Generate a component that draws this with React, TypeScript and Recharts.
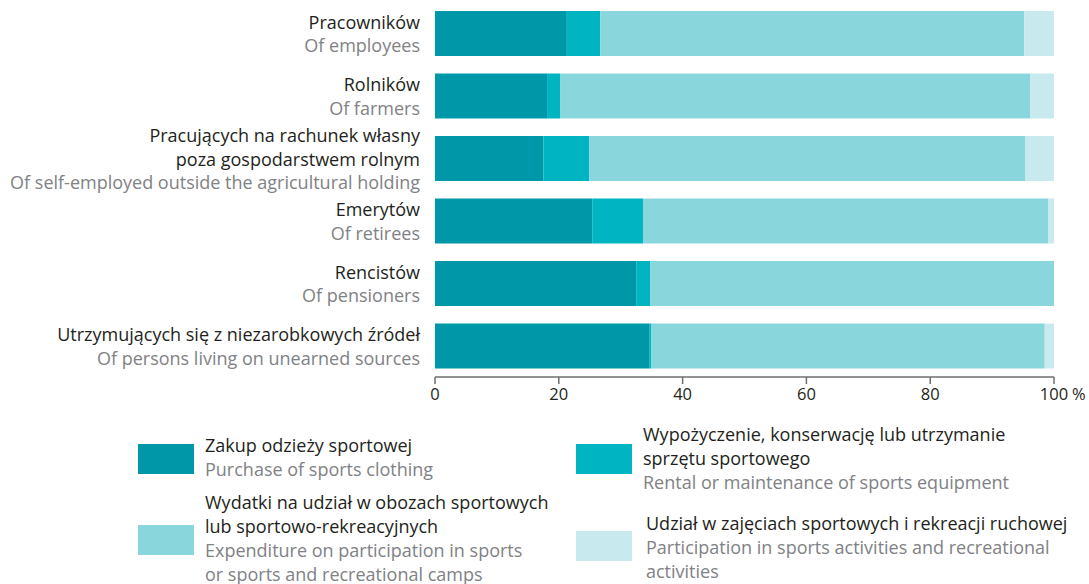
import { Bar, BarChart, XAxis, YAxis } from 'recharts'

const CATEGORY_PL = [
  'Pracowników',
  'Rolników',
  'Pracujących na rachunek własny\npoza gospodarstwem rolnym',
  'Emerytów',
  'Rencistów',
  'Utrzymujących się z niezarobkowych źródeł',
]
const CATEGORY_EN = [
  'Of employees',
  'Of farmers',
  'Of self-employed outside the agricultural holding',
  'Of retirees',
  'Of pensioners',
  'Of persons living on unearned sources',
]

// shares in %
const CLOTHING = [21.3, 18.1, 17.5, 25.4, 32.5, 34.6]
const EQUIPMENT = [5.4, 2.1, 7.4, 8.2, 2.3, 0.3]
const CAMPS = [68.5, 76.0, 70.5, 65.5, 65.2, 63.6]
const ACTIVITIES = [4.8, 3.8, 4.6, 0.9, 0, 1.5]

const X_TICKS = [0, 20, 40, 60, 80, 100]

const SERIES = [
  {
    key: 'clothing',
    color: '#0098a8',
    pl: ['Zakup odzieży sportowej'],
    en: ['Purchase of sports clothing'],
  },
  {
    key: 'equipment',
    color: '#00b5c1',
    pl: ['Wypożyczenie, konserwację lub utrzymanie', 'sprzętu sportowego'],
    en: ['Rental or maintenance of sports equipment'],
  },
  {
    key: 'camps',
    color: '#89d7dc',
    pl: ['Wydatki na udział w obozach sportowych', 'lub sportowo-rekreacyjnych'],
    en: ['Expenditure on participation in sports', 'or sports and recreational camps'],
  },
  {
    key: 'activities',
    color: '#c8eaee',
    pl: ['Udział w zajęciach sportowych i rekreacji ruchowej'],
    en: ['Participation in sports activities and recreational', 'activities'],
  },
]

const data = CATEGORY_PL.map((name, i) => ({
  name,
  clothing: CLOTHING[i],
  equipment: EQUIPMENT[i],
  camps: CAMPS[i],
  activities: ACTIVITIES[i],
}))

const FONT = '"Open Sans", sans-serif'
const DARK = '#231f20'
const GREY = '#808285'
const SIZE = 18

function CategoryTick(props: any) {
  const { x, y, index } = props
  const lines = [
    ...CATEGORY_PL[index].split('\n').map((t) => ({ t, c: DARK })),
    { t: CATEGORY_EN[index], c: GREY },
  ]
  const lh = 23.5
  const first = y + 1 - ((lines.length - 1) * lh) / 2
  return (
    <g>
      {lines.map((l, i) => (
        <text
          key={i}
          x={x - 7}
          y={first + i * lh}
          dy="0.35em"
          textAnchor="end"
          fill={l.c}
          fontSize={SIZE}
          fontFamily={FONT}
        >
          {l.t}
        </text>
      ))}
    </g>
  )
}

function PercentTick(props: any) {
  const { x, y, payload } = props
  return (
    <g>
      <text x={x} y={y + 14} textAnchor="middle" fill={DARK} fontSize={16.5} fontFamily={FONT}>
        {payload.value}
      </text>
      {payload.value === 100 && (
        <text x={x + 18} y={y + 14} textAnchor="start" fill={DARK} fontSize={16.5} fontFamily={FONT}>
          %
        </text>
      )}
    </g>
  )
}

function LegendItem({ s, left, top, swatchTop, textLeft }: any) {
  return (
    <>
      <div
        style={{
          position: 'absolute',
          left: left,
          top: swatchTop,
          width: 56,
          height: 30,
          background: s.color,
        }}
      />
      <div
        style={{
          position: 'absolute',
          left: textLeft,
          top: top,
          fontFamily: FONT,
          fontSize: SIZE,
          lineHeight: '24px',
          whiteSpace: 'nowrap',
        }}
      >
        {s.pl.map((t: string) => (
          <div key={t} style={{ color: DARK }}>
            {t}
          </div>
        ))}
        {s.en.map((t: string) => (
          <div key={t} style={{ color: GREY }}>
            {t}
          </div>
        ))}
      </div>
    </>
  )
}

export default function App() {
  return (
    <div
      style={{
        position: 'absolute',
        left: 0,
        top: 0,
        width: 1089,
        height: 584,
        background: '#fff',
        overflow: 'hidden',
      }}
    >
      <BarChart
        width={1089}
        height={410}
        data={data}
        layout="vertical"
        margin={{ top: 2, right: 35, left: 0, bottom: 3 }}
        barSize={45}
      >
        <XAxis
          type="number"
          domain={[0, 100]}
          ticks={X_TICKS}
          height={30}
          axisLine={{ stroke: '#6d6e70', strokeWidth: 1.5 }}
          tickLine={{ stroke: '#6d6e70', strokeWidth: 1.5 }}
          tickSize={7}
          tick={<PercentTick />}
          interval={0}
        />
        <YAxis
          type="category"
          dataKey="name"
          width={435}
          axisLine={false}
          tickLine={false}
          tick={<CategoryTick />}
          interval={0}
        />
        {SERIES.map((s) => (
          <Bar key={s.key} dataKey={s.key} stackId="a" fill={s.color} isAnimationActive={false} />
        ))}
      </BarChart>
      <LegendItem s={SERIES[0]} left={138} textLeft={205} top={433} swatchTop={444} />
      <LegendItem s={SERIES[2]} left={138} textLeft={205} top={490} swatchTop={525} />
      <LegendItem s={SERIES[1]} left={576} textLeft={643} top={422} swatchTop={444} />
      <LegendItem s={SERIES[3]} left={576} textLeft={646} top={511} swatchTop={531} />
    </div>
  )
}
